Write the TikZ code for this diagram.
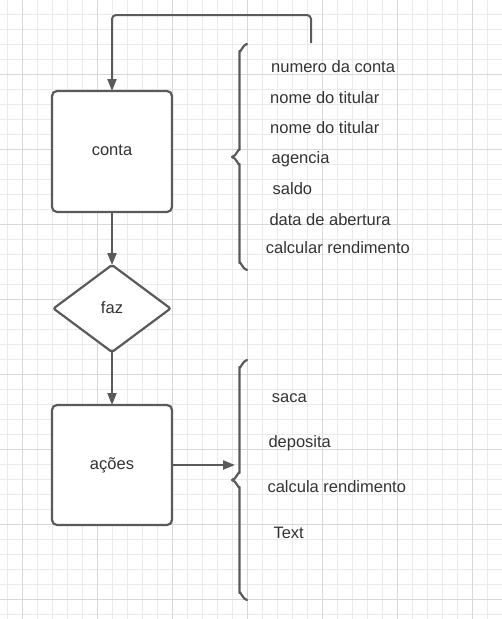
\documentclass[tikz,border=0pt]{standalone}
\usepackage{fontspec}
\setmainfont{Liberation Sans}
\usetikzlibrary{arrows.meta,shapes.geometric}
\definecolor{gridminor}{HTML}{EBEBEB}
\definecolor{gridmajor}{HTML}{D8D8D8}
\definecolor{linec}{HTML}{5A5A5A}
\definecolor{textc}{HTML}{333333}
\begin{document}
\begin{tikzpicture}[x=1pt,y=-1pt,
  lc/.style={draw=linec, line width=2.2pt},
  boxnode/.style={lc, rectangle, rounded corners=5pt, fill=white, minimum width=120pt, inner sep=0pt, outer sep=0pt},
  decision/.style={lc, diamond, rounded corners=2pt, fill=white, minimum width=117pt, minimum height=87pt, inner sep=0pt, outer sep=0pt},
  txt/.style={text=textc, font=\fontsize{16.5}{20}\selectfont, inner sep=0pt, anchor=base west, yshift=-1.3pt},
  ctxt/.style={txt, anchor=base},
  conn/.style={draw=linec, line width=2pt, -{Triangle[length=12pt,width=9pt]}},
  bracep/.style={draw=linec, line width=2.2pt, line cap=round, line join=round}
]
\useasboundingbox (0,0) rectangle (502,619);
\fill[white] (0,0) rectangle (502,619);
% grid
\foreach \k in {0,...,33} {
  \draw[gridminor, line width=0.8pt] ({7.3+15*\k},0) -- ({7.3+15*\k},619);
}
\foreach \k in {0,...,41} {
  \draw[gridminor, line width=0.8pt] (0,{14+15*\k}) -- (502,{14+15*\k});
}
\foreach \k in {0,...,6} {
  \draw[gridmajor, line width=1pt] ({22.3+75*\k},0) -- ({22.3+75*\k},619);
}
\foreach \k in {0,...,7} {
  \draw[gridmajor, line width=1pt] (0,{74+75*\k}) -- (502,{74+75*\k});
}

% shapes
\node[boxnode, minimum height=121pt] (conta) at (112,151.5) {};
\node[decision] (faz) at (112,308.5) {};
\node[boxnode, minimum height=120pt] (acoes) at (112,465) {};

\node[ctxt] (contaT) at (112,154.3) {conta};
\node[ctxt] (fazT) at (112,311.7) {faz};
\node[ctxt] (acoesT) at (112,468.3) {ações};

% connectors
\coordinate (topstart) at (311,43);
\draw[conn, rounded corners=4pt] (topstart) -- (311,15) -- (112,15) -- (conta.north);
\draw[conn] (conta.south) -- (faz.north);
\draw[conn] (faz.south) -- (acoes.north);
\coordinate (bracetip) at (235,465);
\draw[conn] (acoes.east) -- (bracetip);

% braces
\draw[bracep] (247,44) to[out=180,in=-90] (239.5,51) -- (239.5,150)
  to[out=90,in=0] (232,157) to[out=0,in=-90] (239.5,164) -- (239.5,263)
  to[out=90,in=180] (247,270);
\draw[bracep] (247,360) to[out=180,in=-90] (239.5,367) -- (239.5,473)
  to[out=90,in=0] (232,480) to[out=0,in=-90] (239.5,487) -- (239.5,593)
  to[out=90,in=180] (247,600);

% brace 1 texts
\node[txt] (t1) at (271,70.7) {numero da conta};
\node[txt] (t2) at (270,101.7) {nome do titular};
\node[txt] (t3) at (270,132.3) {nome do titular};
\node[txt] (t4) at (271.5,162.3) {agencia};
\node[txt] (t5) at (272.5,192.7) {saldo};
\node[txt] (t6) at (269.3,223.7) {data de abertura};
\node[txt] (t7) at (265.7,252.3) {calcular rendimento};

% brace 2 texts
\node[txt] (u1) at (271.7,400.7) {saca};
\node[txt] (u2) at (268.3,445.7) {deposita};
\node[txt] (u3) at (267.3,491) {calcula rendimento};
\node[txt] (u4) at (273.3,536.7) {Text};
\end{tikzpicture}
\end{document}
